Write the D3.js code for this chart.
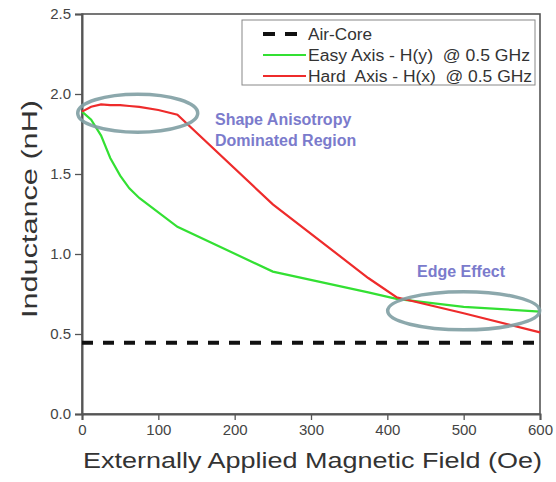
<!DOCTYPE html>
<html>
<head>
<meta charset="utf-8">
<script src="https://cdn.jsdelivr.net/npm/d3@7"></script>
<style>
  html, body { margin: 0; padding: 0; background: #fff; }
  svg { display: block; }
</style>
</head>
<body>
<svg id="chart" width="556" height="482"></svg>
<script>
// Applied field (Oe)
const field = [0, 12, 25, 37, 50, 62, 75, 100, 125, 250, 375, 412, 500, 600];
// Inductance (nH), easy axis H(y) @ 0.5 GHz
const easyAxis = [1.89, 1.84, 1.74, 1.60, 1.49, 1.41, 1.35, 1.26, 1.17, 0.89, 0.76, 0.72, 0.67, 0.64];
// Inductance (nH), hard axis H(x) @ 0.5 GHz
const hardAxis = [1.89, 1.92, 1.935, 1.93, 1.93, 1.925, 1.92, 1.90, 1.87, 1.31, 0.85, 0.73, 0.63, 0.51];
// Air-core reference inductance (nH)
const airCore = 0.445;

const xTicks = [0, 100, 200, 300, 400, 500, 600];
const yTicks = [0.0, 0.5, 1.0, 1.5, 2.0, 2.5];
const legendLabels = ["Air-Core", "Easy Axis - H(y)  @ 0.5 GHz", "Hard  Axis - H(x)  @ 0.5 GHz"];

const svg = d3.select("#chart");
const m = { left: 82, right: 16, top: 14, bottom: 68 };
const W = 556, H = 482;
const x = d3.scaleLinear().domain([0, 600]).range([m.left, W - m.right]);
const y = d3.scaleLinear().domain([0, 2.5]).range([H - m.bottom, m.top]);

const font = "Arial, 'Liberation Sans', sans-serif";
const axisColor = "#555";

// frame
svg.append("rect")
  .attr("x", x(0)).attr("y", y(2.5))
  .attr("width", x(600) - x(0)).attr("height", y(0) - y(2.5))
  .attr("fill", "none").attr("stroke", axisColor).attr("stroke-width", 1.6);

// x axis (major + minor ticks)
const gx = svg.append("g").attr("transform", `translate(0,${y(0)})`);
gx.call(d3.axisBottom(x).tickValues(d3.range(0, 601, 50)).tickSize(5).tickFormat(""))
  .call(g => g.select(".domain").remove());
gx.call(d3.axisBottom(x).tickValues(xTicks).tickSize(6).tickPadding(4).tickFormat(d3.format("d")))
  .call(g => g.select(".domain").attr("stroke", axisColor).attr("stroke-width", 2));
gx.selectAll("line").attr("stroke", axisColor).attr("stroke-width", 1.3);
gx.selectAll("text").attr("font-family", font).attr("font-size", 15).attr("fill", "#444");

// y axis
const gy = svg.append("g").attr("transform", `translate(${x(0)},0)`);
gy.call(d3.axisLeft(y).tickValues(d3.range(0, 2.51, 0.25)).tickSize(5).tickFormat(""))
  .call(g => g.select(".domain").remove());
gy.call(d3.axisLeft(y).tickValues(yTicks).tickSize(7).tickPadding(4).tickFormat(d3.format(".1f")))
  .call(g => g.select(".domain").attr("stroke", axisColor).attr("stroke-width", 2));
gy.selectAll("line").attr("stroke", axisColor).attr("stroke-width", 1.3);
gy.selectAll("text").attr("font-family", font).attr("font-size", 15).attr("fill", "#444");

// axis titles (glyphs are set slightly wide)
svg.append("text")
  .attr("x", 83).attr("y", 468)
  .attr("font-family", font).attr("font-size", 22)
  .attr("textLength", 459).attr("lengthAdjust", "spacingAndGlyphs")
  .attr("fill", "#333")
  .text("Externally Applied Magnetic Field (Oe)");
svg.append("text")
  .attr("transform", `translate(37,${209 + 109}) rotate(-90)`)
  .attr("font-family", font).attr("font-size", 22)
  .attr("textLength", 218).attr("lengthAdjust", "spacingAndGlyphs")
  .attr("fill", "#333")
  .text("Inductance (nH)");

// air-core reference
svg.append("line")
  .attr("x1", x(0)).attr("x2", x(600))
  .attr("y1", y(airCore)).attr("y2", y(airCore))
  .attr("stroke", "#111").attr("stroke-width", 4).attr("stroke-dasharray", "11,10");

// curves
const line = d3.line().x(d => x(d[0])).y(d => y(d[1]));
svg.append("path").datum(field.map((f, i) => [f, easyAxis[i]]))
  .attr("d", line).attr("fill", "none").attr("stroke", "#33e033").attr("stroke-width", 2.2);
svg.append("path").datum(field.map((f, i) => [f, hardAxis[i]]))
  .attr("d", line).attr("fill", "none").attr("stroke", "#ee2b2b").attr("stroke-width", 2.2);

// highlight ellipses
const ellipses = [
  { cx: 73, cy: 1.88, rx: 60, ry: 19 },
  { cx: 500, cy: 0.645, rx: 76, ry: 19 }
];
svg.selectAll("ellipse.note").data(ellipses).join("ellipse")
  .attr("class", "note")
  .attr("cx", d => x(d.cx)).attr("cy", d => y(d.cy))
  .attr("rx", d => d.rx).attr("ry", d => d.ry)
  .attr("fill", "none").attr("stroke", "#7f9ea3").attr("stroke-width", 3.5).attr("opacity", 0.9);

// annotations
const noteColor = "#7b7bcc";
const ann = svg.append("text").attr("font-family", font).attr("font-size", 16)
  .attr("font-weight", "bold").attr("fill", noteColor);
ann.append("tspan").attr("x", 215).attr("y", 125).text("Shape Anisotropy");
ann.append("tspan").attr("x", 215).attr("y", 146).text("Dominated Region");
svg.append("text").attr("x", 417).attr("y", 277)
  .attr("font-family", font).attr("font-size", 16).attr("font-weight", "bold")
  .attr("fill", noteColor).text("Edge Effect");

// legend
const lg = svg.append("g");
lg.append("rect").attr("x", 242).attr("y", 20).attr("width", 293).attr("height", 65)
  .attr("fill", "#fff").attr("stroke", "#888").attr("stroke-width", 1);
const legendStyles = [
  { color: "#111", width: 4, dash: "12,10", len: 64 },
  { color: "#33e033", width: 2.2, dash: null, len: 222 },
  { color: "#ee2b2b", width: 2.2, dash: null, len: 224 }
];
legendLabels.forEach((label, i) => {
  const cy = 34 + i * 21;
  lg.append("line").attr("x1", 263).attr("x2", 306).attr("y1", cy).attr("y2", cy)
    .attr("stroke", legendStyles[i].color).attr("stroke-width", legendStyles[i].width)
    .attr("stroke-dasharray", legendStyles[i].dash);
  lg.append("text").attr("x", 308).attr("y", cy + 6)
    .attr("font-family", font).attr("font-size", 16).attr("fill", "#333")
    .attr("textLength", legendStyles[i].len).attr("lengthAdjust", "spacingAndGlyphs")
    .attr("xml:space", "preserve").style("white-space", "pre")
    .text(label);
});
</script>
</body>
</html>
